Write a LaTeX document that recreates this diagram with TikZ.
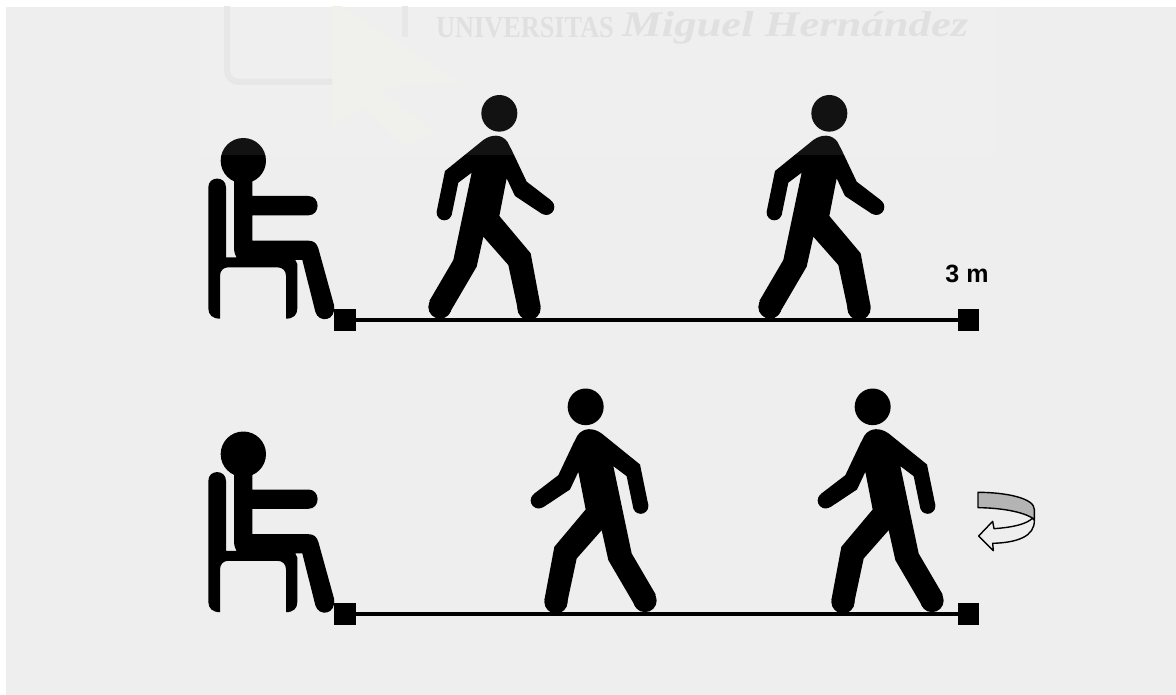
\documentclass[tikz,border=0pt]{standalone}
\usepackage{fontspec}
\setmainfont{Liberation Sans}
\newfontfamily\wmfont{Liberation Serif}
\definecolor{bggrey}{HTML}{EEEEEE}
\definecolor{wmgrey}{HTML}{E0E0E0}
\definecolor{wmline}{HTML}{E6E6E6}
\definecolor{wmcream}{HTML}{EFEFEB}
\definecolor{bandgrey}{HTML}{B4B4B4}
\tikzset{
  endmark/.style={fill=black,draw=none,minimum size=21.5pt,inner sep=0pt,outer sep=0pt,rectangle},
  track/.style={draw=black,line width=4pt},
  zoomed/.style={xscale=0.33333,yscale=0.33333,transform shape},
  wmtext/.style={anchor=west,inner sep=0pt,text=wmgrey},
  walker/.pic={
    \fill[black] (928,70) ellipse [x radius=54,y radius=55];
    \fill[black] (765,243) -- (880,150)
      .. controls (905,132) and (935,132) .. (952,155)
      -- (965,180) -- (1010,275) -- (1083,331) -- (1055,371) -- (975,318) -- (950,265)
      -- (928,378) -- (1022,490) -- (1052,650) -- (985,665) -- (955,525) -- (880,440)
      -- (860,530) -- (778,670) -- (718,633) -- (790,510) -- (845,248) -- (805,278)
      -- (785,375) -- (740,365) -- cycle;
    \fill[black] (763,368) circle [radius=23];
    \fill[black] (1069,351) circle [radius=24];
    \fill[black] (750,651) circle [radius=35];
    \fill[black] (1017,655) circle [radius=35];
  },
  sitter/.pic={
    \fill[black] (160,212) circle [radius=68];
    \fill[black] (55,292) .. controls (55,257) and (108,257) .. (108,292)
      -- (108,502) -- (140,502) .. controls (132,490) and (132,480) .. (132,465)
      -- (132,270) -- (187,270) -- (187,318) -- (355,318)
      .. controls (392,318) and (392,376) .. (355,376)
      -- (187,376) -- (187,452) -- (355,452)
      .. controls (372,452) and (380,460) .. (385,475)
      -- (432,645) .. controls (440,695) and (385,700) .. (376,665)
      -- (337,510) -- (316,510) -- (322,522) -- (322,655)
      .. controls (322,675) and (310,686) .. (288,686)
      -- (288,558) .. controls (288,542) and (278,532) .. (262,532)
      -- (115,532) .. controls (100,532) and (90,542) .. (90,558)
      -- (90,686) .. controls (68,686) and (55,675) .. (55,655) -- cycle;
  },
  turnband/.style={draw=black,line width=1.4pt,line join=round}
}
\begin{document}
\begin{tikzpicture}[x=1pt,y=-1pt]
\useasboundingbox (0,0) rectangle (1176,695);
\fill[white] (0,0) rectangle (1176,695);
\fill[bggrey] (6,7) rectangle (1176,695);
% figures, top row
\begin{scope}[shift={(190,90)},zoomed] \pic {sitter}; \pic {walker}; \end{scope}
\begin{scope}[shift={(520,90)},zoomed] \pic {walker}; \end{scope}
% figures, bottom row
\begin{scope}[shift={(190,383.5)},zoomed] \pic {sitter}; \end{scope}
\begin{scope}[shift={(895,383.5)},xscale=-0.33333,yscale=0.33333,transform shape] \pic {walker}; \end{scope}
\begin{scope}[shift={(1182,383.5)},xscale=-0.33333,yscale=0.33333,transform shape] \pic {walker}; \end{scope}
% tracks
\node[endmark] (a1) at (345,320) {};
\node[endmark] (b1) at (968.3,320) {};
\node[endmark] (a2) at (345,614) {};
\node[endmark] (b2) at (968.3,614) {};
\draw[track] (a1) -- (b1);
\draw[track] (a2) -- (b2);
\node[font=\bfseries\fontsize{25}{26}\selectfont,inner sep=0pt] (lab) at (967,273.5) {3 m};
% turn arrow
\begin{scope}[shift={(800,380)},xscale=0.33333,yscale=0.33333]
  \draw[turnband,fill=bggrey] (697,415)
     .. controls (680,432) and (640,442) .. (582,446)
     -- (578,424) -- (536,468) -- (580,512) -- (578,490)
     .. controls (650,488) and (705,470) .. (703,420) -- cycle;
  \draw[turnband,fill=bandgrey] (534,337)
     .. controls (620,337) and (703,355) .. (703,388)
     -- (703,418)
     .. controls (680,400) and (620,384) .. (534,383) -- cycle;
\end{scope}
% watermark
\begin{scope}
  \clip (6,7) rectangle (1176,695);
  \fill[wmcream] (332,0) -- (462,83) -- (379,88) -- (436,133) -- (405,147) -- (363,107) -- (332,127) -- cycle;
  \draw[wmline,line width=6pt] (227,0) -- (227,68) .. controls (227,78) and (232,82) .. (240,82) -- (332,82);
  \draw[wmline,line width=6pt] (405,0) -- (405,37);
  \fill[white,opacity=0.07] (200,7) rectangle (995,155);
  \node[wmtext,font=\wmfont\bfseries\fontsize{36}{38}\selectfont] (wm1) at (436,28) {\scalebox{0.73}[0.85]{UNIVERSITAS}};
  \node[wmtext,font=\wmfont\bfseries\itshape\fontsize{36}{38}\selectfont] (wm2) at (622,28) {\scalebox{1.24}[1]{Miguel Hernández}};
\end{scope}
\end{tikzpicture}
\end{document}
